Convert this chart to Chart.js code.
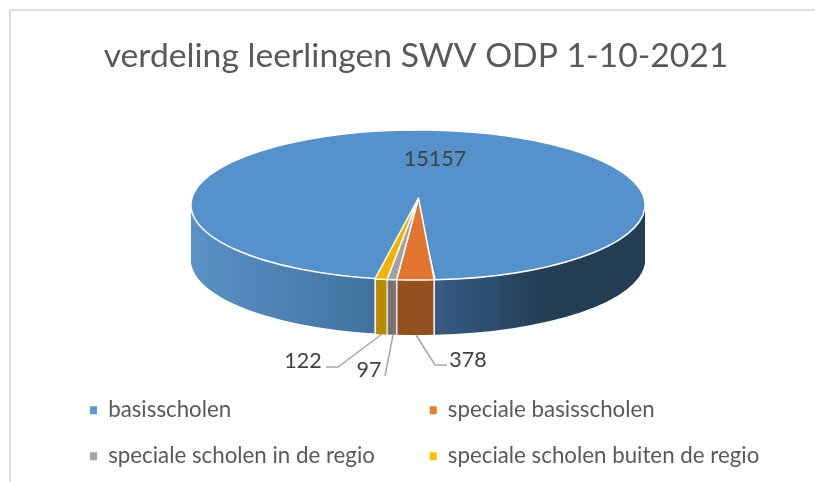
<!DOCTYPE html>
<html><head><meta charset="utf-8">
<script src="https://cdn.jsdelivr.net/npm/chart.js@4/dist/chart.umd.min.js"></script>
<style>
html,body{margin:0;padding:0;background:#fff;overflow:hidden}
#wrap{position:relative;width:815px;height:482px;overflow:hidden}
#frame{position:absolute;left:9px;top:9px;width:900px;height:600px;border:2px solid #dcdcdc;box-sizing:border-box}
canvas{position:absolute;left:0;top:0}
</style></head><body>
<div id="wrap"><div id="frame"></div><canvas id="c" width="815" height="482"></canvas></div>
<script>
const titleText = 'verdeling leerlingen SWV ODP 1-10-2021';
const categories = ['basisscholen','speciale basisscholen','speciale scholen in de regio','speciale scholen buiten de regio'];
const leerlingen = [15157,378,97,122];
const topColors = ['#5591CB','#E2752F','#A3A3A3','#F0B400'];
const legendColors = ['#5B9BD5','#ED7D31','#A5A5A5','#FFC000'];
const wallColors = [null,'#95501F','#747474','#B88A00'];
const legendOrder = [0,2,1,3];

// 3D look: pixel geometry of the projected pie
const DISC = {cx:418,cy:205,rx:227,ry:75,shift:0};
const WEDGE = {cx:418.5,cy:198,rx:250,ry:82,shift:-3};
const DEPTH = 55;
const LABEL_SPOTS = [[435,159],[468,360],[369,370],[303,361]];
const LEADERS = [null,[[447,365],[435,365],[416,335]],[[385,376],[393,335]],[[326,367],[338,367],[382,334]]];

function place(ctx,el,g,dy){
  const R=el.outerRadius;
  ctx.translate(g.cx,g.cy+dy);
  ctx.transform(g.rx/R,0,g.shift/R,g.ry/R,0,0);
  ctx.translate(-el.x,-el.y);
}
function ghost(el,props){
  const o=Object.create(el);
  o.options=Object.assign({},el.options,{borderWidth:0,borderColor:'transparent'},props.options||{});
  for(const k in props) if(k!=='options') o[k]=props[k];
  return o;
}
const pie3d={
  id:'pie3d',
  afterLayout(chart){
    const L=chart.legend;
    L.left=66.3;L.right=815;L.top=375.3;L.bottom=493;L.width=749;L.height=118;
    L.columnSizes=[{width:316,height:92},{width:340,height:92}];
  },
  beforeDatasetDraw(chart,args){
    const ctx=chart.ctx, els=chart.getDatasetMeta(args.index).data;
    const R=els[0].outerRadius, ex=els[0].x;
    // wall gradient in the element's own x space
    const toU=x=>ex+(x-DISC.cx)*R/DISC.rx;
    const grad=ctx.createLinearGradient(toU(191),0,toU(645),0);
    [[191,'#5A92C7'],[375,'#41729E'],[435,'#375C83'],[540,'#233F56'],[645,'#223D54']]
      .forEach(([x,c])=>grad.addColorStop((x-191)/454,c));
    for(let dy=DEPTH;dy>=1;dy-=1){
      els.forEach((el,i)=>{
        ctx.save();
        place(ctx,el,i===0?DISC:WEDGE,dy);
        ghost(el,{options:{backgroundColor:i===0?grad:wallColors[i]}}).draw(ctx);
        ctx.restore();
      });
      // white seams between the front faces
      const edges=[els[1].startAngle,els[2].startAngle,els[3].startAngle,els[3].endAngle];
      edges.forEach(a=>{
        const d=0.8/WEDGE.rx, el=els[1];
        ctx.save();
        place(ctx,el,WEDGE,dy);
        ghost(el,{startAngle:a-d,endAngle:a+d,circumference:2*d,innerRadius:el.outerRadius*0.9,
          options:{backgroundColor:'#ffffff'}}).draw(ctx);
        ctx.restore();
      });
    }
    // top faces, strokes at even device width
    const origStroke=ctx.stroke;
    ctx.stroke=function(){const t=ctx.getTransform();ctx.setTransform(1,0,0,1,0,0);origStroke.call(ctx);ctx.setTransform(t);};
    els.forEach((el,i)=>{
      ctx.save();
      place(ctx,el,i===0?DISC:WEDGE,0);
      el.draw(ctx);
      ctx.restore();
    });
    delete ctx.stroke;
    return false;
  },
  afterDatasetsDraw(chart){
    const ctx=chart.ctx, ds=chart.data.datasets[0].data;
    ctx.save();
    ctx.strokeStyle='#A6A6A6';ctx.lineWidth=1.5;
    LEADERS.forEach(p=>{ if(!p) return;
      ctx.beginPath();p.forEach(([x,y],k)=>k?ctx.lineTo(x,y):ctx.moveTo(x,y));ctx.stroke();});
    ctx.fillStyle='#404040';ctx.font='21.5px Lato';ctx.textAlign='center';ctx.textBaseline='middle';
    ds.forEach((v,i)=>ctx.fillText(String(v),LABEL_SPOTS[i][0],LABEL_SPOTS[i][1]));
    ctx.restore();
  }
};
new Chart(document.getElementById('c'),{
  type:'pie',
  data:{labels:categories,datasets:[{data:leerlingen,backgroundColor:topColors,borderColor:'#ffffff',borderWidth:1.5}]},
  plugins:[pie3d],
  options:{
    responsive:false,animation:false,
    rotation:-170.66,
    layout:{padding:{left:17}},
    plugins:{
      tooltip:{enabled:false},
      title:{display:true,text:titleText,color:'#595959',font:{family:'Lato',size:33.7,weight:'normal'},padding:{top:36,bottom:10}},
      legend:{display:true,position:'left',align:'start',
        labels:{boxWidth:7,boxHeight:8,padding:23.7,color:'#595959',font:{family:'Lato',size:22.3},
          sort:(a,b)=>legendOrder.indexOf(a.index)-legendOrder.indexOf(b.index),
          generateLabels(chart){
            return Chart.overrides.pie.plugins.legend.labels.generateLabels(chart).map((it,i)=>
              Object.assign(it,{fillStyle:legendColors[i],strokeStyle:'transparent',lineWidth:0}));
          }}}
    }
  }
});
</script></body></html>
